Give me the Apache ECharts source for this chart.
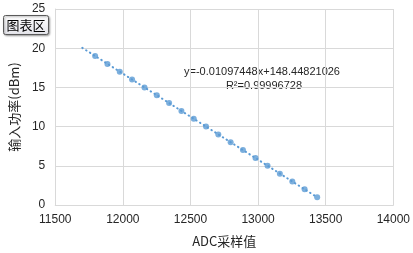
<!DOCTYPE html>
<html><head><meta charset="utf-8">
<script src="https://cdn.jsdelivr.net/npm/echarts@6/dist/echarts.min.js"></script>
<style>html,body{margin:0;padding:0;background:#fff}#c{width:413px;height:253px}</style>
</head><body><div id="c"></div>
<script>
var adcValues = [11795, 11886, 11977, 12068, 12160, 12251, 12342, 12433, 12524, 12615, 12706, 12797, 12888, 12981, 13070, 13161, 13253, 13344, 13437];
var powerValues = [19, 18, 17, 16, 15, 14, 13, 12, 11, 10, 9, 8, 7, 6, 5, 4, 3, 2, 1];
var trendX = [11700, 13440];
var trendY = [20.05, 0.95];
var xTicks = [11500, 12000, 12500, 13000, 13500, 14000];
var yTicks = [0, 5, 10, 15, 20, 25];
var eqText = 'y=-0.01097448x+148.44821026';
var r2Text = 'R\u00b2=0.99996728';

var pts = adcValues.map(function(x, i){ return [x, powerValues[i]]; });
var trend = trendX.map(function(x, i){ return [x, trendY[i]]; });
var font = 'Liberation Sans, Arial, sans-serif';
var chart = echarts.init(document.getElementById('c'), null, {renderer: 'canvas'});
chart.setOption({
  animation: false,
  grid: {left: 53, right: 18, top: 9, bottom: 41},
  xAxis: {
    type: 'value', min: xTicks[0], max: xTicks[xTicks.length-1], interval: 500,
    name: 'ADC采样值', nameLocation: 'middle', nameGap: 30,
    nameTextStyle: {color: '#262626', fontSize: 13, fontFamily: 'Noto Sans CJK SC, ' + font},
    axisLine: {show: true, lineStyle: {color: '#d9d9d9'}},
    axisTick: {show: false},
    axisLabel: {color: '#262626', fontSize: 12, fontFamily: font, margin: 9, formatter: function(v){ return String(v); }},
    splitLine: {show: true, lineStyle: {color: '#d9d9d9'}}
  },
  yAxis: {
    type: 'value', min: yTicks[0], max: yTicks[yTicks.length-1], interval: 5,
    name: '输入功率(dBm)', nameLocation: 'middle', nameGap: 27, nameRotate: 90,
    nameTextStyle: {color: '#262626', fontSize: 13, fontFamily: 'Noto Sans CJK SC, ' + font},
    axisLine: {show: true, lineStyle: {color: '#d9d9d9'}},
    axisTick: {show: false},
    axisLabel: {color: '#262626', fontSize: 12, fontFamily: font, margin: 10},
    splitLine: {show: true, lineStyle: {color: '#d9d9d9'}}
  },
  series: [
    {type: 'line', data: trend, symbol: 'none', silent: true,
     lineStyle: {color: '#5B9BD5', width: 2, type: [0.5, 4], cap: 'round'}, z: 2},
    {type: 'scatter', data: pts, symbol: 'circle', symbolSize: 6,
     itemStyle: {color: '#5B9BD5'}, z: 3}
  ],
  graphic: [
    {type: 'text', x: 262, y: 72, style: {text: eqText, fill: '#262626', fontSize: 11, fontFamily: font, textAlign: 'center', textVerticalAlign: 'middle'}},
    {type: 'text', x: 264, y: 86, style: {text: r2Text, fill: '#262626', fontSize: 11, fontFamily: font, textAlign: 'center', textVerticalAlign: 'middle'}},
    {type: 'rect', shape: {x: 3.5, y: 15.5, width: 45, height: 19, r: 2},
     style: {fill: new echarts.graphic.LinearGradient(0,0,0,1,[{offset:0,color:'#ffffff'},{offset:1,color:'#e4e4ea'}]), stroke: '#5a5a5a', lineWidth: 1, shadowBlur: 2, shadowOffsetX: 1, shadowOffsetY: 1, shadowColor: 'rgba(0,0,0,0.35)'}, z: 10},
    {type: 'text', x: 26, y: 25.5, z: 11, style: {text: '图表区', fill: '#000', fontSize: 13, fontFamily: 'Noto Sans CJK SC, sans-serif', textAlign: 'center', textVerticalAlign: 'middle'}}
  ]
});
</script></body></html>
